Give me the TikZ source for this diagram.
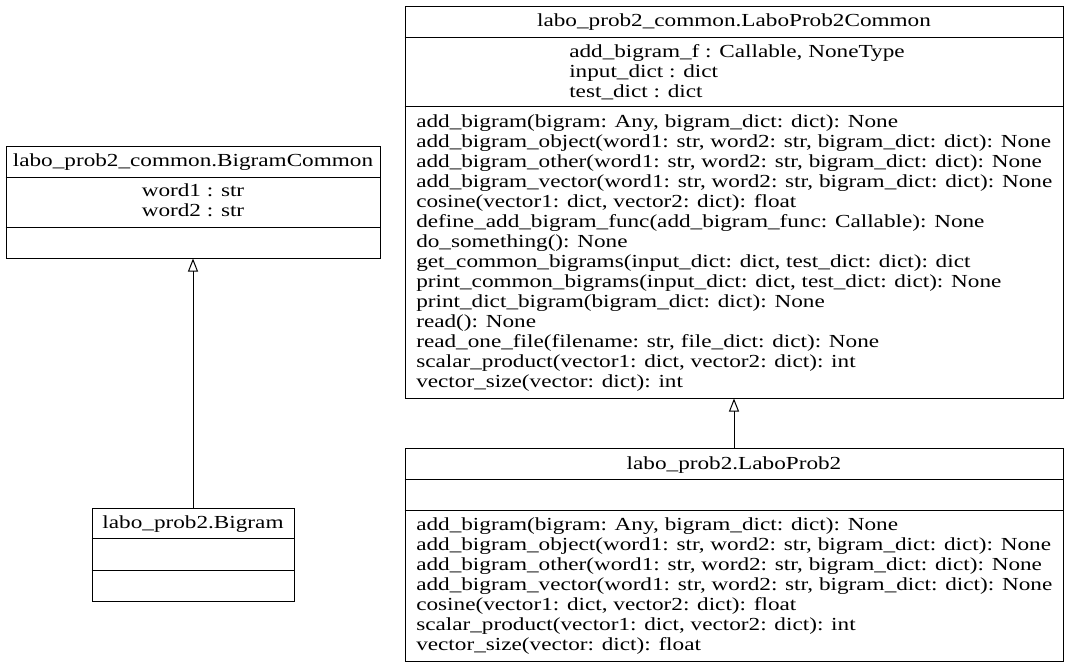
\documentclass[tikz,border=0pt]{standalone}
\usepackage{fontspec}
\usepackage{graphicx}
\setmainfont{Liberation Serif}
\usetikzlibrary{arrows.meta}
\newlength\wref
\newcommand\umlfont{\fontsize{13.8pt}{15pt}\selectfont}
\begin{document}
\umlfont
\settowidth\wref{add\_bigram\_vector(word1: str, word2: str, bigram\_dict: dict): None}
\pgfmathsetmacro\sx{477/\wref}
\begin{tikzpicture}[x=0.75pt,y=-0.75pt,
  box/.style={draw=black,line width=0.75pt,inner sep=0pt,rectangle},
  divline/.style={draw=black,line width=0.75pt},
  txt/.style={inner sep=0pt,font=\umlfont},
  inh/.style={draw=black,line width=0.75pt,-{Triangle[open,length=9.75pt,width=7.5pt]}}]
\useasboundingbox (0,0) rectangle (1069,668);
% boxes
\node[box,minimum width=280.5pt,minimum height=84pt] (A) at (193,202) {};
\node[box,minimum width=493.5pt,minimum height=294pt] (B) at (734,202) {};
\node[box,minimum width=151.5pt,minimum height=69.75pt] (C) at (193,554.5) {};
\node[box,minimum width=493.5pt,minimum height=159.75pt] (D) at (734,554.5) {};
% dividers
\draw[divline] (A.west |- 0,177) -- (A.east |- 0,177);
\draw[divline] (A.west |- 0,227) -- (A.east |- 0,227);
\draw[divline] (B.west |- 0,37) -- (B.east |- 0,37);
\draw[divline] (B.west |- 0,106) -- (B.east |- 0,106);
\draw[divline] (C.west |- 0,538) -- (C.east |- 0,538);
\draw[divline] (C.west |- 0,570) -- (C.east |- 0,570);
\draw[divline] (D.west |- 0,479) -- (D.east |- 0,479);
\draw[divline] (D.west |- 0,510) -- (D.east |- 0,510);
% titles
\node[txt,anchor=base] (At) at (193,166) {\scalebox{\sx}[1]{labo\_prob2\_common.BigramCommon}};
\node[txt,anchor=base] (Bt) at (734,26) {\scalebox{\sx}[1]{labo\_prob2\_common.LaboProb2Common}};
\node[txt,anchor=base] (Ct) at (193,528) {\scalebox{\sx}[1]{labo\_prob2.Bigram}};
\node[txt,anchor=base] (Dt) at (734,469) {\scalebox{\sx}[1]{labo\_prob2.LaboProb2}};
% attributes
\node[txt,anchor=base] (Aa1) at (193,196) {\scalebox{\sx}[1]{word1 : str}};
\node[txt,anchor=base] (Aa2) at (193,216) {\scalebox{\sx}[1]{word2 : str}};
\foreach \t [count=\i] in {
  {add\_bigram\_f : Callable, NoneType},
  {input\_dict : dict},
  {test\_dict : dict}}
  \node[txt,anchor=base west] (Ba\i) at (569,{57+20*(\i-1)}) {\scalebox{\sx}[1]{\t}};
% methods B
\foreach \t [count=\i] in {
  {add\_bigram(bigram: Any, bigram\_dict: dict): None},
  {add\_bigram\_object(word1: str, word2: str, bigram\_dict: dict): None},
  {add\_bigram\_other(word1: str, word2: str, bigram\_dict: dict): None},
  {add\_bigram\_vector(word1: str, word2: str, bigram\_dict: dict): None},
  {cosine(vector1: dict, vector2: dict): float},
  {define\_add\_bigram\_func(add\_bigram\_func: Callable): None},
  {do\_something(): None},
  {get\_common\_bigrams(input\_dict: dict, test\_dict: dict): dict},
  {print\_common\_bigrams(input\_dict: dict, test\_dict: dict): None},
  {print\_dict\_bigram(bigram\_dict: dict): None},
  {read(): None},
  {read\_one\_file(filename: str, file\_dict: dict): None},
  {scalar\_product(vector1: dict, vector2: dict): int},
  {vector\_size(vector: dict): int}}
  \node[txt,anchor=base west] (Bm\i) at (416,{127+20*(\i-1)}) {\scalebox{\sx}[1]{\t}};
% methods D
\foreach \t [count=\i] in {
  {add\_bigram(bigram: Any, bigram\_dict: dict): None},
  {add\_bigram\_object(word1: str, word2: str, bigram\_dict: dict): None},
  {add\_bigram\_other(word1: str, word2: str, bigram\_dict: dict): None},
  {add\_bigram\_vector(word1: str, word2: str, bigram\_dict: dict): None},
  {cosine(vector1: dict, vector2: dict): float},
  {scalar\_product(vector1: dict, vector2: dict): int},
  {vector\_size(vector: dict): float}}
  \node[txt,anchor=base west] (Dm\i) at (416,{530+20*(\i-1)}) {\scalebox{\sx}[1]{\t}};
% inheritance
\draw[inh] (C.north) -- (A.south);
\draw[inh] (D.north) -- (B.south);
\end{tikzpicture}
\end{document}
